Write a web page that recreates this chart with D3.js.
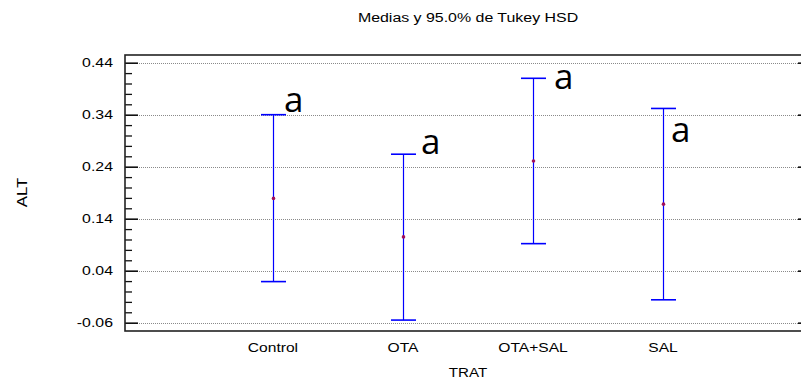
<!DOCTYPE html>
<html><head><meta charset="utf-8">
<script src="https://cdn.jsdelivr.net/npm/d3@7"></script>
<style>body{margin:0;background:#fff}svg{display:block}</style>
</head><body><div id="chart"></div>
<script>
const categories = ["Control", "OTA", "OTA+SAL", "SAL"];
const means = [0.179, 0.105, 0.251, 0.168];
const lower = [0.019, -0.055, 0.092, -0.016];
const upper = [0.340, 0.264, 0.410, 0.352];
const groupLetters = ["a", "a", "a", "a"];
const letterValues = [0.346, 0.264, 0.389, 0.288];
const yTickLabels = ["-0.06", "0.04", "0.14", "0.24", "0.34", "0.44"];
const titleText = "Medias y 95.0% de Tukey HSD";
const xTitle = "TRAT", yTitle = "ALT";

const W = 801, H = 383;
const L = 125, R = 811, T = 55, B = 331;
const letterDx = [11, 18, 21, 8];

const svg = d3.select("#chart").append("svg").attr("width", W).attr("height", H);
svg.append("rect").attr("width", W).attr("height", H).attr("fill", "#fff");

const x = d3.scalePoint().domain(categories).range([L, R]).padding(1.138);
const y = d3.scaleLinear().domain([-0.076, 0.4548]).range([B, T]);

const majors = yTickLabels.map(Number);
const minors = d3.range(-0.06, 0.4401, 0.02).map(v => +v.toFixed(2)).filter(v => !majors.some(m => Math.abs(m - v) < 1e-9));

function txt(g, s, px, py, size, sx, anchor, baseline) {
  return g.append("text").attr("transform", `translate(${px},${py}) scale(${sx},1)`)
    .attr("text-anchor", anchor || "middle").attr("dominant-baseline", baseline || "auto")
    .attr("font-family", "'Liberation Sans', Arial, sans-serif").attr("font-size", size)
    .attr("fill", "#000").text(s);
}

// gridlines
svg.append("g").selectAll("line").data(majors).join("line")
  .attr("x1", L).attr("x2", R).attr("y1", d => Math.round(y(d)) + 0.5).attr("y2", d => Math.round(y(d)) + 0.5)
  .attr("stroke", "#8a8a8a").attr("stroke-width", 1).attr("stroke-dasharray", "1,1");

// left axis ticks (pointing inward)
const axL = svg.append("g").attr("transform", `translate(${L},0)`);
axL.call(d3.axisRight(y).tickValues(majors).tickSize(13).tickFormat(""))
  .call(g => g.select(".domain").remove())
  .call(g => g.selectAll("line").attr("stroke", "#111").attr("stroke-width", 1.6));
axL.append("g").call(d3.axisRight(y).tickValues(minors).tickSize(7).tickFormat(""))
  .call(g => g.select(".domain").remove())
  .call(g => g.selectAll("line").attr("stroke", "#111").attr("stroke-width", 1.3));
const axR = svg.append("g").attr("transform", `translate(${R},0)`);
axR.call(d3.axisLeft(y).tickValues(majors).tickSize(13).tickFormat(""))
  .call(g => g.select(".domain").remove())
  .call(g => g.selectAll("line").attr("stroke", "#111").attr("stroke-width", 1.6));

// tick labels
majors.forEach((v, i) => txt(svg, yTickLabels[i], 113, y(v), 13, 1.22, "end", "central"));

// frame
svg.append("rect").attr("x", L).attr("y", T).attr("width", R - L).attr("height", B - T)
  .attr("stroke", "#222").attr("stroke-width", 1.6).attr("fill", "none");

// x labels and titles
categories.forEach(c => txt(svg, c, x(c), 352, 13, 1.2, "middle"));
txt(svg, xTitle, (L + R) / 2, 377, 13.5, 1.12, "middle");
svg.append("text").attr("transform", `translate(27,192.5) rotate(-90) scale(1.2,1)`)
  .attr("text-anchor", "middle").attr("font-family", "'Liberation Sans', Arial, sans-serif")
  .attr("font-size", 14).attr("fill", "#000").text(yTitle);
txt(svg, titleText, 468, 22, 13.5, 1.18, "middle");

// error bars
const bars = svg.append("g");
categories.forEach((c, i) => {
  const cx = Math.round(x(c)) + 0.5;
  bars.append("line").attr("x1", cx).attr("x2", cx).attr("y1", y(upper[i])).attr("y2", y(lower[i]))
    .attr("stroke", "#0000ff").attr("stroke-width", 1.2);
  [upper[i], lower[i]].forEach(v => bars.append("line")
    .attr("x1", cx - 12.5).attr("x2", cx + 12.5).attr("y1", y(v)).attr("y2", y(v))
    .attr("stroke", "#0000ff").attr("stroke-width", 1.6));
  bars.append("circle").attr("cx", cx).attr("cy", y(means[i])).attr("r", 1.8)
    .attr("fill", "#a0105a").attr("stroke", "none");
  svg.append("text").attr("x", x(c) + letterDx[i]).attr("y", y(letterValues[i]))
    .attr("font-family", "'Open Sans', sans-serif").attr("font-size", 35).attr("fill", "#000")
    .text(groupLetters[i]);
});
</script></body></html>
